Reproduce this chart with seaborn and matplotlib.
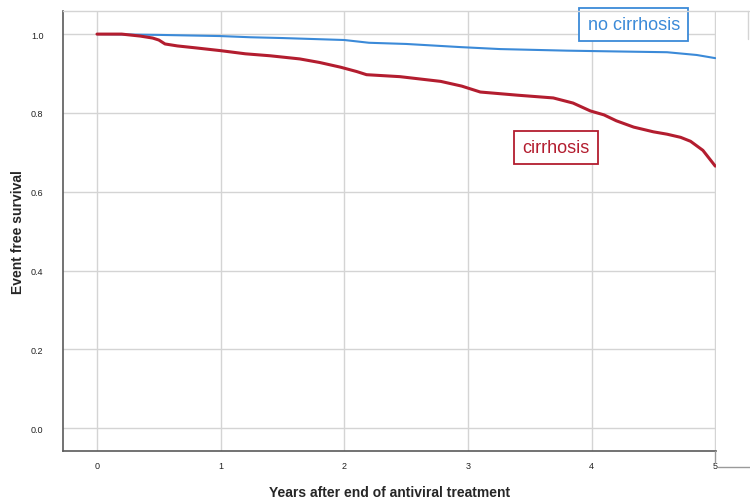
import matplotlib
matplotlib.use("Agg")
import matplotlib.pyplot as plt
import matplotlib.lines as mlines
import pandas as pd
import seaborn as sns

# Kaplan-Meier style curves
cirr_years = [0.0, 0.2, 0.35, 0.45, 0.5, 0.55, 0.65, 0.8, 1.0, 1.2, 1.4, 1.64, 1.8, 1.97,
              2.1, 2.18, 2.45, 2.78, 2.95, 3.1, 3.4, 3.69, 3.85, 3.99, 4.1, 4.2, 4.34,
              4.5, 4.61, 4.72, 4.8, 4.9, 5.0]
cirr_surv = [1.0, 1.0, 0.995, 0.99, 0.985, 0.975, 0.97, 0.965, 0.958, 0.95, 0.945, 0.937,
             0.928, 0.916, 0.905, 0.897, 0.892, 0.88, 0.868, 0.853, 0.845, 0.838, 0.825,
             0.805, 0.795, 0.78, 0.764, 0.752, 0.746, 0.738, 0.728, 0.705, 0.665]
nocirr_years = [0.0, 0.5, 1.0, 1.24, 1.5, 2.0, 2.2, 2.5, 2.94, 3.26, 3.8, 4.2, 4.61, 4.85, 5.0]
nocirr_surv = [1.0, 0.998, 0.995, 0.992, 0.99, 0.985, 0.978, 0.975, 0.967, 0.962, 0.958,
               0.956, 0.954, 0.947, 0.939]

x_ticks = [0, 1, 2, 3, 4, 5]
y_ticks = [0.0, 0.2, 0.4, 0.6, 0.8, 1.0]

BLUE = "#3b8ad8"
RED = "#b31d2f"

df = pd.concat([
    pd.DataFrame({"years": nocirr_years, "surv": nocirr_surv, "group": "no cirrhosis"}),
    pd.DataFrame({"years": cirr_years, "surv": cirr_surv, "group": "cirrhosis"}),
])

sns.set_theme(style="white")
plt.rcParams["font.family"] = ["Liberation Sans", "DejaVu Sans"]

fig = plt.figure(figsize=(7.5, 5.02), dpi=100)
ax = fig.add_axes([0.084, 0.0996, 0.871, 0.876])

sns.lineplot(data=df, x="years", y="surv", hue="group",
             palette={"no cirrhosis": BLUE, "cirrhosis": RED},
             linewidth=1.8, legend=False, ax=ax, sort=False)
for line in ax.get_lines():
    if line.get_color() == BLUE:
        line.set_linewidth(1.5)
    else:
        line.set_linewidth(2.2)

ax.set_xlim(-0.275, 5.008)
ax.set_ylim(-0.058, 1.058)
ax.set_xticks(x_ticks)
ax.set_yticks(y_ticks)
ax.set_xticklabels([str(t) for t in x_ticks], fontsize=6.5, color="#222222")
ax.set_yticklabels([f"{t:.1f}" for t in y_ticks], fontsize=6.5, color="#222222")
ax.tick_params(axis="x", length=0, pad=7)
ax.tick_params(axis="y", length=0, pad=14)
ax.grid(True, color="#d4d4d4", linewidth=1.0)
ax.set_axisbelow(True)

for side in ["top", "right"]:
    ax.spines[side].set_visible(False)
for side in ["left", "bottom"]:
    ax.spines[side].set_color("#5a5a5a")
    ax.spines[side].set_linewidth(1.2)

ax.set_xlabel("Years after end of antiviral treatment", fontsize=10, fontweight="bold",
              labelpad=11)
ax.set_ylabel("Event free survival", fontsize=10, fontweight="bold", labelpad=4)

ax.text(4.34, 1.025, "no cirrhosis", fontsize=13, color=BLUE, ha="center", va="center",
        bbox=dict(boxstyle="square,pad=0.45", fc="white", ec=BLUE, lw=1.3))
ax.text(3.71, 0.713, "cirrhosis", fontsize=13, color=RED, ha="center", va="center",
        bbox=dict(boxstyle="square,pad=0.45", fc="white", ec=RED, lw=1.3))

# frame remnants of the exported chart
fig.add_artist(mlines.Line2D([0.084, 0.998], [0.976, 0.976], color="#d4d4d4", lw=1.0))
fig.add_artist(mlines.Line2D([0.997, 0.997], [0.976, 0.92], color="#d4d4d4", lw=1.0))
fig.add_artist(mlines.Line2D([0.953, 0.953], [0.0996, 0.075], color="#9a9a9a", lw=1.0))
fig.add_artist(mlines.Line2D([0.957, 1.0], [0.068, 0.068], color="#9a9a9a", lw=1.0))

fig.savefig("out.png", dpi=100)
